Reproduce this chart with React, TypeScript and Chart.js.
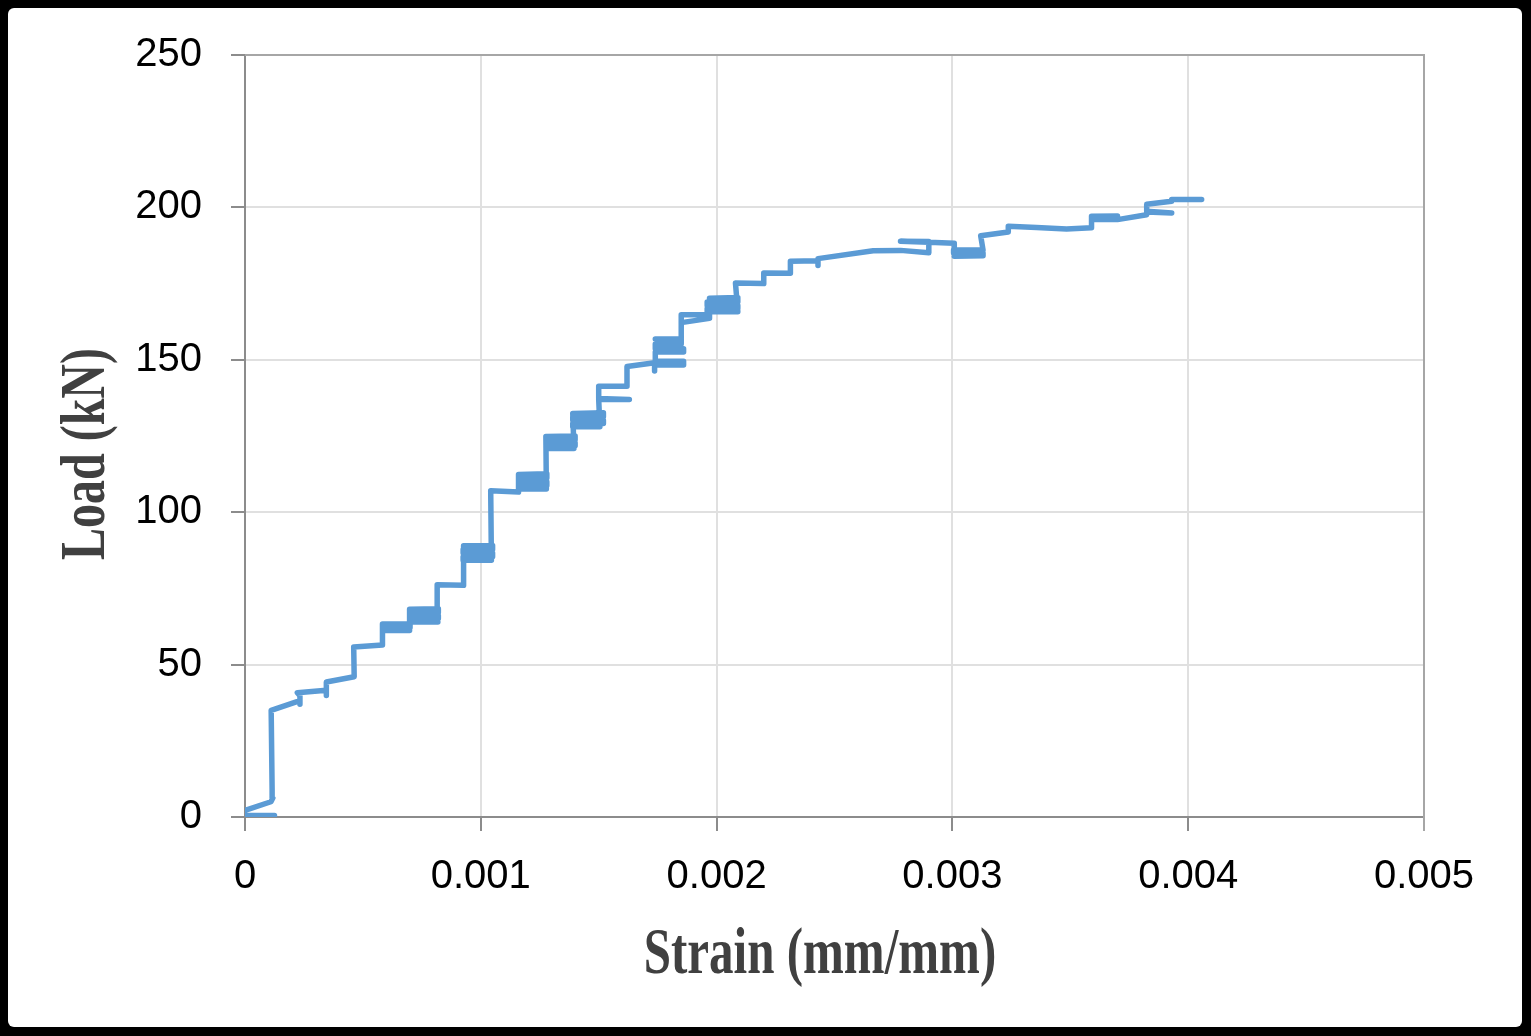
import { useEffect, useRef } from "react";
import { Chart, registerables } from "chart.js";

Chart.register(...registerables);

// Measured load–strain record (strain in mm/mm, load in kN)
const strain = [
  0.000125, 0.0, 0.0, 0.00011, 0.000118, 0.000115, 0.000111,
  0.000233, 0.000233, 0.000233, 0.000222, 0.000345, 0.000345, 0.000345,
  0.000463, 0.000461, 0.000583, 0.000583,
  0.0007, 0.0007, 0.000588, 0.000588, 0.000698, 0.000698,
  0.00082, 0.00082, 0.0007, 0.0007, 0.00082, 0.00082, 0.0007, 0.0007, 0.000818, 0.000815,
  0.000927, 0.000927,
  0.00105, 0.00105, 0.000925, 0.000925, 0.00105, 0.00105, 0.000925, 0.000925, 0.001045, 0.001042,
  0.00116, 0.00116,
  0.00128, 0.00128, 0.00116, 0.00116, 0.00128, 0.00128, 0.00116, 0.00116, 0.001278, 0.001276,
  0.0014, 0.0014, 0.001278, 0.001278, 0.0014, 0.0014, 0.001278, 0.001278, 0.001395, 0.00139,
  0.00152, 0.00152, 0.00139, 0.00139, 0.00152, 0.00152, 0.00139, 0.00139, 0.001505, 0.0015,
  0.00163, 0.0015, 0.0015, 0.00162, 0.00162,
  0.001737, 0.001737, 0.001737, 0.00186, 0.00186, 0.00174, 0.00174, 0.00186, 0.00186, 0.00174,
  0.00174, 0.00185, 0.00185, 0.00174, 0.00185,
  0.00185, 0.00197, 0.00197, 0.00185, 0.00197, 0.00197,
  0.00209, 0.00209, 0.00196, 0.00196, 0.00209, 0.00209, 0.00196, 0.00196, 0.00209, 0.00208,
  0.0022, 0.0022, 0.002313, 0.002313, 0.00243, 0.00243, 0.00243,
  0.002664, 0.00278, 0.0029, 0.0029, 0.00278, 0.0029, 0.003008, 0.003008,
  0.00313, 0.00313, 0.003005, 0.003005, 0.00313, 0.00312,
  0.003237, 0.003237, 0.003357, 0.003484, 0.00359, 0.00359,
  0.0037, 0.0037, 0.00359, 0.00359, 0.0037, 0.003824, 0.003824, 0.00393, 0.003824, 0.003824,
  0.00393, 0.00393, 0.004057,
];

const load = [
  0.5, 0.5, 2.2, 5.0, 6.2, 9.0, 35.0,
  38.2, 37.0, 39.8, 40.8, 41.6, 39.9, 44.3,
  46.0, 55.8, 56.4, 63.3,
  63.4, 62.2, 62.2, 61.2, 61.2, 68.2,
  68.3, 67.1, 67.1, 66.1, 66.1, 65.1, 65.1, 64.0, 64.0, 76.2,
  76.0, 89.0,
  89.1, 87.8, 87.8, 86.6, 86.6, 85.4, 85.4, 84.2, 84.2, 107.0,
  106.6, 112.4,
  112.6, 111.2, 111.2, 110.0, 110.0, 108.8, 108.8, 107.6, 107.6, 124.8,
  125.0, 123.8, 123.8, 122.8, 122.8, 121.8, 121.8, 120.9, 120.9, 132.4,
  132.6, 131.3, 131.3, 130.2, 130.2, 129.1, 129.1, 128.0, 128.0, 137.0,
  137.0, 137.3, 141.3, 141.3, 147.8,
  149.0, 146.3, 148.3, 148.3, 149.5, 149.5, 152.6, 152.6, 153.6, 153.6,
  155.2, 155.2, 156.8, 156.8, 156.8,
  164.8, 164.8, 163.6, 162.2, 163.6, 170.2,
  170.4, 169.0, 169.0, 167.8, 167.8, 166.8, 166.8, 165.8, 165.8, 175.2,
  175.0, 178.5, 178.4, 182.3, 182.5, 180.9, 183.2,
  185.8, 185.9, 185.1, 188.8, 188.9, 188.6, 188.2, 184.0,
  184.1, 185.0, 185.0, 186.0, 186.0, 190.7,
  191.9, 193.8, 193.4, 192.9, 193.3, 197.1,
  197.2, 196.6, 196.6, 196.0, 196.0, 197.6, 198.5, 198.2, 198.7, 201.0,
  202.0, 202.6, 202.6,
];

const strainTicks = [0, 0.001, 0.002, 0.003, 0.004, 0.005];
const strainTickLabels = ["0", "0.001", "0.002", "0.003", "0.004", "0.005"];
const loadTicks = [0, 50, 100, 150, 200, 250];
const loadTickLabels = ["0", "50", "100", "150", "200", "250"];

const xTitle = "Strain (mm/mm)";
const yTitle = "Load (kN)";

const AXIS_COLOR = "#8c8c8c";
const EDGE_COLOR = "#a6a6a6";
const GRID_COLOR = "#e0e0e0";
const LINE_COLOR = "#5b9bd5";
const TITLE_COLOR = "#404040";

// Draws the top/right plot edges and the two axis titles
const decorPlugin = {
  id: "decor",
  beforeDatasetsDraw(chart: any) {
    const { ctx, chartArea: a } = chart;
    ctx.save();
    ctx.strokeStyle = EDGE_COLOR;
    ctx.lineWidth = 2;
    ctx.beginPath();
    ctx.moveTo(a.left, a.top);
    ctx.lineTo(a.right, a.top);
    ctx.lineTo(a.right, a.bottom + 14);
    ctx.stroke();
    ctx.restore();
  },
  afterDraw(chart: any) {
    const { ctx, chartArea: a } = chart;
    ctx.save();
    ctx.fillStyle = TITLE_COLOR;
    ctx.textAlign = "center";
    ctx.textBaseline = "alphabetic";
    ctx.font = 'bold 49px "Liberation Serif", "Times New Roman", serif';
    ctx.translate(a.left + 575, a.bottom + 156);
    ctx.scale(1, 1.32);
    ctx.fillText(xTitle, 0, 0);
    ctx.restore();

    ctx.save();
    ctx.fillStyle = TITLE_COLOR;
    ctx.textAlign = "center";
    ctx.textBaseline = "alphabetic";
    ctx.font = 'bold 48px "Liberation Serif", "Times New Roman", serif';
    ctx.translate(a.left - 141, (a.top + a.bottom) / 2 + 18);
    ctx.rotate(-Math.PI / 2);
    ctx.scale(1, 1.32);
    ctx.fillText(yTitle, 0, 0);
    ctx.restore();
  },
};

export default function App() {
  const canvasRef = useRef<HTMLCanvasElement>(null);

  useEffect(() => {
    const canvas = canvasRef.current;
    if (!canvas) return;
    const points = strain.map((s, i) => ({ x: s, y: load[i] }));
    const tickFont = { family: '"Liberation Sans", Arial, sans-serif', size: 40 };

    const chart = new Chart(canvas, {
      type: "scatter",
      data: {
        datasets: [
          {
            data: points,
            showLine: true,
            borderColor: LINE_COLOR,
            backgroundColor: LINE_COLOR,
            borderWidth: 5.5,
            borderCapStyle: "round",
            borderJoinStyle: "round",
            pointRadius: 0,
            pointHoverRadius: 0,
            tension: 0,
            fill: false,
          },
        ],
      },
      options: {
        responsive: false,
        animation: false,
        devicePixelRatio: 1,
        layout: { padding: { left: 0, top: 55, right: 107, bottom: 0 } },
        plugins: {
          legend: { display: false },
          tooltip: { enabled: false },
          title: { display: false },
        },
        scales: {
          x: {
            type: "linear",
            min: 0,
            max: 0.005,
            afterFit: (s: any) => {
              s.height = 219;
            },
            afterBuildTicks: (s: any) => {
              s.ticks = strainTicks.map((v) => ({ value: v }));
            },
            ticks: {
              callback: (_v: any, i: number) => strainTickLabels[i],
              font: tickFont,
              color: "#000",
              padding: 22,
              maxRotation: 0,
              autoSkip: false,
            },
            grid: {
              color: GRID_COLOR,
              lineWidth: 2,
              tickLength: 14,
              tickColor: AXIS_COLOR,
              tickWidth: 2,
            },
            border: { color: AXIS_COLOR, width: 2 },
          },
          y: {
            type: "linear",
            min: 0,
            max: 250,
            afterFit: (s: any) => {
              s.width = 245;
            },
            afterBuildTicks: (s: any) => {
              s.ticks = loadTicks.map((v) => ({ value: v }));
            },
            ticks: {
              callback: (_v: any, i: number) => loadTickLabels[i],
              font: tickFont,
              color: "#000",
              padding: 29,
              autoSkip: false,
            },
            grid: {
              color: GRID_COLOR,
              lineWidth: 2,
              tickLength: 14,
              tickColor: AXIS_COLOR,
              tickWidth: 2,
            },
            border: { color: AXIS_COLOR, width: 2 },
          },
        },
      },
      plugins: [decorPlugin],
    });

    return () => chart.destroy();
  }, []);

  return (
    <div
      style={{
        position: "fixed",
        left: 0,
        top: 0,
        width: 1531,
        height: 1036,
        background: "#000",
        overflow: "hidden",
      }}
    >
      <div
        style={{
          position: "absolute",
          left: 8,
          top: 8,
          right: 9,
          bottom: 9,
          background: "#fff",
          borderRadius: 6,
        }}
      />
      <canvas
        ref={canvasRef}
        width={1531}
        height={1036}
        style={{ position: "absolute", left: 0, top: 0, width: 1531, height: 1036 }}
      />
    </div>
  );
}
